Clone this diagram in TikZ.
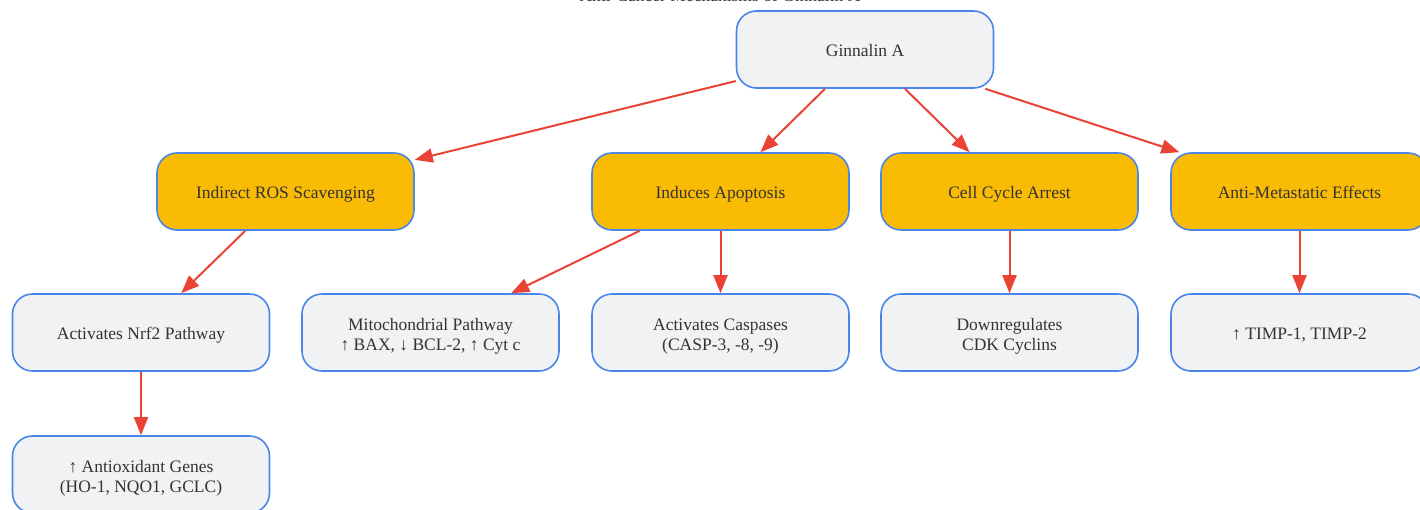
\documentclass[tikz,border=0pt]{standalone}
\usepackage{fontspec}
\setmainfont{Liberation Serif}
\usepackage{tikz}
\usetikzlibrary{arrows.meta}

\definecolor{boxline}{HTML}{4A86E8}
\definecolor{boxgray}{HTML}{F1F2F4}
\definecolor{boxgold}{HTML}{FABB05}
\definecolor{arrred}{HTML}{EA4335}
\definecolor{txt}{HTML}{333333}

\tikzset{
    mbox/.style={draw=boxline, line width=1.6pt, fill=boxgray, rounded corners=20pt,
        minimum width=257pt, minimum height=77pt, align=center, text=txt,
        font=\fontsize{17.5}{20}\selectfont, text height=16pt, text depth=2pt},
    gbox/.style={mbox, fill=boxgold},
    tbox/.style={mbox, text height=37pt, text depth=2pt},
    arr/.style={draw=arrred, line width=2pt, -{Triangle[length=18pt,width=14pt]}}
}

\begin{document}
\begin{tikzpicture}[x=1pt,y=-1pt]
        \useasboundingbox (0,0) rectangle (1420,509);
        % Title (cut at the top)
        \node[anchor=base, text=txt, font=\fontsize{17.5}{20}\selectfont] (title) at (720,1.5) {Anti-Cancer Mechanisms of Ginnalin A};
        % Top
        \node[mbox] (gin) at (865,49.5) {Ginnalin A};
        % Mechanisms
        \node[gbox] (ros) at (285.5,191.5) {Indirect ROS Scavenging};
        \node[gbox] (apo) at (720.5,191.5) {Induces Apoptosis};
        \node[gbox] (cyc) at (1009.5,191.5) {Cell Cycle Arrest};
        \node[gbox] (met) at (1299.5,191.5) {Anti-Metastatic Effects};
        % Effects
        \node[mbox] (nrf) at (141,332.5) {Activates Nrf2 Pathway};
        \node[tbox] (mito) at (430.5,332.5) {Mitochondrial Pathway\\↑ BAX, ↓ BCL-2, ↑ Cyt c};
        \node[tbox] (casp) at (720.5,332.5) {Activates Caspases\\(CASP-3, -8, -9)};
        \node[tbox] (cdk) at (1009.5,332.5) {Downregulates\\CDK Cyclins};
        \node[mbox] (timp) at (1299.5,332.5) {↑ TIMP-1, TIMP-2};
        \node[tbox] (anti) at (141,474.5) {↑ Antioxidant Genes\\(HO-1, NQO1, GCLC)};
        % Arrows
        \draw[arr] (gin) -- (ros);
        \draw[arr] (gin) -- (apo);
        \draw[arr] (gin) -- (cyc);
        \draw[arr] (gin) -- (met);
        \draw[arr] (ros) -- (nrf);
        \draw[arr] (apo) -- (mito);
        \draw[arr] (apo) -- (casp);
        \draw[arr] (cyc) -- (cdk);
        \draw[arr] (met) -- (timp);
        \draw[arr] (nrf) -- (anti);
    \end{tikzpicture}
\end{document}
